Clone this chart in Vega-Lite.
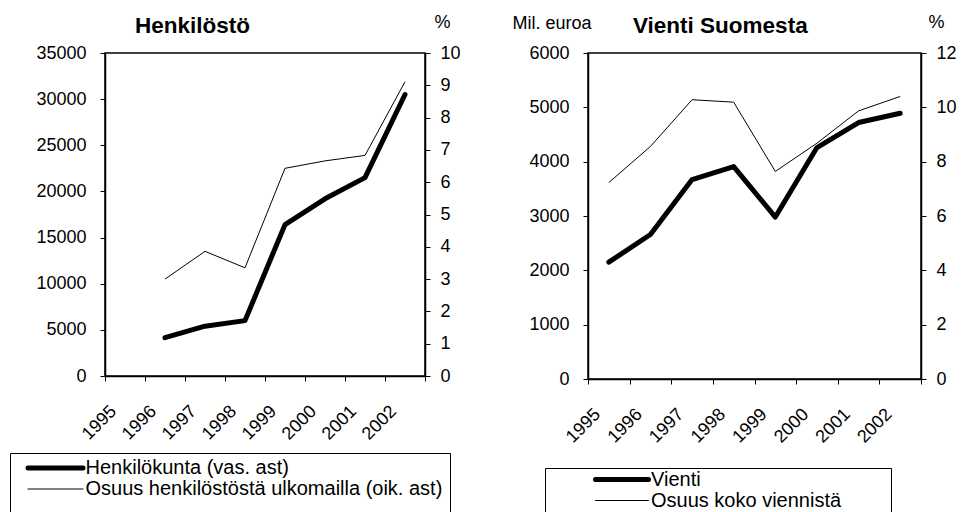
{
  "$schema": "https://vega.github.io/schema/vega-lite/v6.json",
  "background": "white",
  "padding": {"left": 8, "top": 12, "right": 2, "bottom": 0},
  "bounds": "flush",
  "spacing": 163,
  "config": {
    "font": "Liberation Sans",
    "view": {"stroke": "black", "strokeWidth": 1.5},
    "axis": {
      "domainColor": "black", "domainWidth": 1.5,
      "tickColor": "black", "tickWidth": 1, "tickSize": 5,
      "labelColor": "black", "labelFont": "Liberation Sans", "labelFontSize": 18,
      "titleColor": "black", "titleFont": "Liberation Sans", "titleFontWeight": "normal",
      "grid": false
    },
    "legend": {
      "labelFont": "Liberation Sans", "labelColor": "black", "labelFontSize": 20, "labelLimit": 600,
      "strokeColor": "black", "symbolType": "stroke", "symbolStrokeColor": "black",
      "rowPadding": 0
    },
    "title": {"font": "Liberation Sans", "fontSize": 22.5, "fontWeight": "bold", "color": "black", "anchor": "start", "frame": "group", "baseline": "alphabetic"}
  },
  "resolve": {"scale": {"strokeWidth": "independent"}, "legend": {"strokeWidth": "independent"}},
  "datasets": {
    "henk": [
      {"year": 1996, "series": "Henkilökunta (vas. ast)", "value": 4150},
      {"year": 1997, "series": "Henkilökunta (vas. ast)", "value": 5400},
      {"year": 1998, "series": "Henkilökunta (vas. ast)", "value": 6000},
      {"year": 1999, "series": "Henkilökunta (vas. ast)", "value": 16400},
      {"year": 2000, "series": "Henkilökunta (vas. ast)", "value": 19200},
      {"year": 2001, "series": "Henkilökunta (vas. ast)", "value": 21500},
      {"year": 2002, "series": "Henkilökunta (vas. ast)", "value": 30500},
      {"year": 1996, "series": "Osuus henkilöstöstä ulkomailla (oik. ast)", "value": 3.0},
      {"year": 1997, "series": "Osuus henkilöstöstä ulkomailla (oik. ast)", "value": 3.86},
      {"year": 1998, "series": "Osuus henkilöstöstä ulkomailla (oik. ast)", "value": 3.35},
      {"year": 1999, "series": "Osuus henkilöstöstä ulkomailla (oik. ast)", "value": 6.43},
      {"year": 2000, "series": "Osuus henkilöstöstä ulkomailla (oik. ast)", "value": 6.66},
      {"year": 2001, "series": "Osuus henkilöstöstä ulkomailla (oik. ast)", "value": 6.83},
      {"year": 2002, "series": "Osuus henkilöstöstä ulkomailla (oik. ast)", "value": 9.11}
    ],
    "vienti": [
      {"year": 1995, "series": "Vienti", "value": 2150},
      {"year": 1996, "series": "Vienti", "value": 2660},
      {"year": 1997, "series": "Vienti", "value": 3670},
      {"year": 1998, "series": "Vienti", "value": 3910},
      {"year": 1999, "series": "Vienti", "value": 2980},
      {"year": 2000, "series": "Vienti", "value": 4260},
      {"year": 2001, "series": "Vienti", "value": 4720},
      {"year": 2002, "series": "Vienti", "value": 4890},
      {"year": 1995, "series": "Osuus koko viennistä", "value": 7.23},
      {"year": 1996, "series": "Osuus koko viennistä", "value": 8.56},
      {"year": 1997, "series": "Osuus koko viennistä", "value": 10.28},
      {"year": 1998, "series": "Osuus koko viennistä", "value": 10.19},
      {"year": 1999, "series": "Osuus koko viennistä", "value": 7.64},
      {"year": 2000, "series": "Osuus koko viennistä", "value": 8.68},
      {"year": 2001, "series": "Osuus koko viennistä", "value": 9.87},
      {"year": 2002, "series": "Osuus koko viennistä", "value": 10.4}
    ]
  },
  "hconcat": [
    {
      "width": 320,
      "height": 323,
      "data": {"name": "henk"},
      "title": {"text": "Henkilöstö", "dx": 30, "offset": -24},
      "encoding": {
        "x": {
          "field": "year", "type": "quantitative",
          "scale": {"domain": [1994.5, 2002.5], "nice": false, "zero": false},
          "axis": {
            "title": null,
            "values": [1994.5, 1995.5, 1996.5, 1997.5, 1998.5, 1999.5, 2000.5, 2001.5, 2002.5],
            "labelExpr": "datum.value < 2002 ? format(datum.value + 0.5, 'd') : ''",
            "labelAngle": -45, "labelAlign": "right", "labelBaseline": "top",
            "labelPadding": 21, "labelOffset": 2, "labelFontSize": 18,
            "labelOverlap": false, "labelFlush": false, "labelBound": false
          }
        },
        "strokeWidth": {
          "field": "series", "type": "ordinal",
          "scale": {"domain": ["Henkilökunta (vas. ast)", "Osuus henkilöstöstä ulkomailla (oik. ast)"], "range": [5, 1]},
          "legend": {
            "orient": "none", "legendX": -95, "legendY": 400,
            "title": " ", "titleOrient": "bottom", "titlePadding": 2, "titleFontSize": 10,
            "padding": 7.5, "symbolSize": 3025, "symbolOffset": 8, "labelOffset": 0,
            "clipHeight": 15,
            "encode": {"symbols": {"update": {"strokeCap": {"value": "round"}}}}
          }
        }
      },
      "layer": [
        {
          "transform": [{"filter": {"field": "series", "equal": "Henkilökunta (vas. ast)"}}],
          "mark": {"type": "line", "color": "black", "strokeCap": "round", "strokeJoin": "round"},
          "encoding": {
            "y": {
              "field": "value", "type": "quantitative",
              "scale": {"domain": [0, 35000], "nice": false},
              "axis": {"title": null, "orient": "left", "values": [0, 5000, 10000, 15000, 20000, 25000, 30000, 35000], "format": "d", "labelPadding": 14}
            }
          }
        },
        {
          "transform": [{"filter": {"field": "series", "equal": "Osuus henkilöstöstä ulkomailla (oik. ast)"}}],
          "mark": {"type": "line", "color": "black"},
          "encoding": {
            "y": {
              "field": "value", "type": "quantitative",
              "scale": {"domain": [0, 10], "nice": false},
              "axis": {
                "orient": "right", "values": [0, 1, 2, 3, 4, 5, 6, 7, 8, 9, 10], "labelPadding": 10,
                "title": "%", "titleAngle": 0, "titleX": 17, "titleY": -26, "titleAlign": "center", "titleBaseline": "alphabetic", "titleFontSize": 18
              }
            }
          }
        }
      ],
      "resolve": {"scale": {"y": "independent"}}
    },
    {
      "width": 333,
      "height": 326,
      "data": {"name": "vienti"},
      "title": {"text": "Vienti Suomesta", "dx": 45, "offset": -24},
      "encoding": {
        "x": {
          "field": "year", "type": "quantitative",
          "scale": {"domain": [1994.5, 2002.5], "nice": false, "zero": false},
          "axis": {
            "title": null,
            "values": [1994.5, 1995.5, 1996.5, 1997.5, 1998.5, 1999.5, 2000.5, 2001.5, 2002.5],
            "labelExpr": "datum.value < 2002 ? format(datum.value + 0.5, 'd') : ''",
            "labelAngle": -45, "labelAlign": "right", "labelBaseline": "top",
            "labelPadding": 21, "labelOffset": 3, "labelFontSize": 18,
            "labelOverlap": false, "labelFlush": false, "labelBound": false
          }
        },
        "strokeWidth": {
          "field": "series", "type": "ordinal",
          "scale": {"domain": ["Vienti", "Osuus koko viennistä"], "range": [5, 1]},
          "legend": {
            "orient": "none", "legendX": -43, "legendY": 415,
            "title": " ", "titleOrient": "right", "titlePadding": 48, "titleFontSize": 2,
            "padding": 2, "symbolSize": 2809, "symbolOffset": 46, "labelOffset": 0,
            "clipHeight": 19,
            "encode": {"symbols": {"update": {"strokeCap": {"value": "round"}}}}
          }
        }
      },
      "layer": [
        {
          "transform": [{"filter": {"field": "series", "equal": "Vienti"}}],
          "mark": {"type": "line", "color": "black", "strokeCap": "round", "strokeJoin": "round"},
          "encoding": {
            "y": {
              "field": "value", "type": "quantitative",
              "scale": {"domain": [0, 6000], "nice": false},
              "axis": {
                "orient": "left", "values": [0, 1000, 2000, 3000, 4000, 5000, 6000], "format": "d", "labelPadding": 14,
                "title": "Mil. euroa", "titleAngle": 0, "titleX": -76, "titleY": -25, "titleAlign": "left", "titleBaseline": "alphabetic", "titleFontSize": 18
              }
            }
          }
        },
        {
          "transform": [{"filter": {"field": "series", "equal": "Osuus koko viennistä"}}],
          "mark": {"type": "line", "color": "black"},
          "encoding": {
            "y": {
              "field": "value", "type": "quantitative",
              "scale": {"domain": [0, 12], "nice": false},
              "axis": {
                "orient": "right", "values": [0, 2, 4, 6, 8, 10, 12], "labelPadding": 10,
                "title": "%", "titleAngle": 0, "titleX": 15, "titleY": -26, "titleAlign": "center", "titleBaseline": "alphabetic", "titleFontSize": 18
              }
            }
          }
        }
      ],
      "resolve": {"scale": {"y": "independent"}}
    }
  ]
}
